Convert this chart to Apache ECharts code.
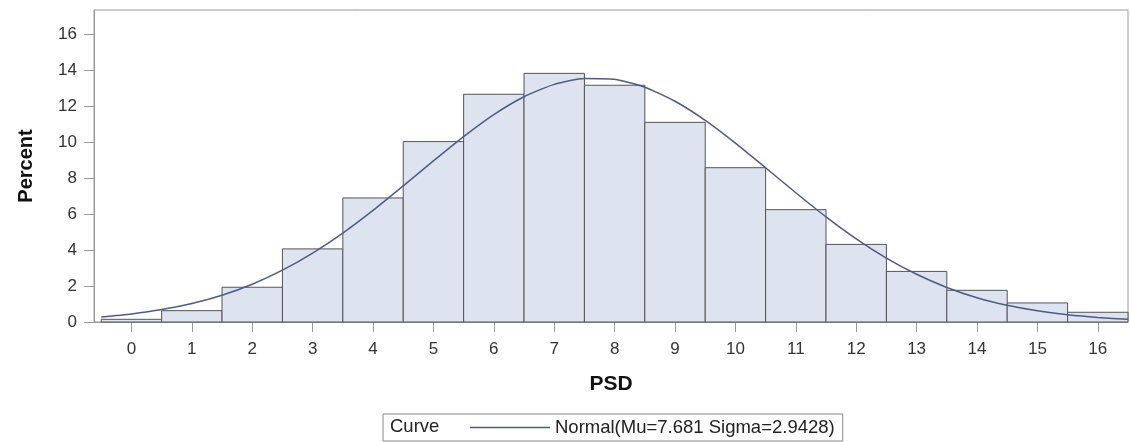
<!DOCTYPE html>
<html>
<head>
<meta charset="utf-8">
<script src="https://cdn.jsdelivr.net/npm/echarts@6/dist/echarts.min.js"></script>
<style>
  html, body { margin: 0; padding: 0; background: #fff; }
  #chart { width: 1130px; height: 442px; }
</style>
</head>
<body>
<div id="chart"></div>
<script>
// histogram bins (PSD midpoints) and percent per bin
const bins = [0, 1, 2, 3, 4, 5, 6, 7, 8, 9, 10, 11, 12, 13, 14, 15, 16];
const percents = [0.15, 0.63, 1.93, 4.06, 6.89, 10.02, 12.65, 13.81, 13.15, 11.09, 8.57, 6.24, 4.31, 2.81, 1.76, 1.06, 0.54];

// fitted normal curve
const curveX = [-0.5, 0, 0.5, 1, 1.5, 2, 2.5, 3, 3.5, 4, 4.5, 5, 5.5, 6, 6.5, 7, 7.5, 8, 8.5, 9, 9.5, 10, 10.5, 11, 11.5, 12, 12.5, 13, 13.5, 14, 14.5, 15, 15.5, 16, 16.5];
const curveY = [0.28, 0.45, 0.69, 1.03, 1.49, 2.10, 2.88, 3.83, 4.94, 6.20, 7.56, 8.95, 10.30, 11.52, 12.51, 13.20, 13.53, 13.48, 13.04, 12.26, 11.20, 9.94, 8.57, 7.18, 5.84, 4.62, 3.55, 2.65, 1.92, 1.35, 0.93, 0.62, 0.40, 0.25, 0.15];

const xTicks = [0, 1, 2, 3, 4, 5, 6, 7, 8, 9, 10, 11, 12, 13, 14, 15, 16];
const yTicks = [0, 2, 4, 6, 8, 10, 12, 14, 16];
const curveName = 'Normal(Mu=7.681 Sigma=2.9428)';

const chart = echarts.init(document.getElementById('chart'));
const font = 'Arial, "Liberation Sans", sans-serif';
const axisGray = '#9a9a9a';

const option = {
  animation: false,
  textStyle: { fontFamily: font },
  grid: {
    left: 94, right: 2, top: 10, bottom: 120,
    show: true, borderColor: axisGray, borderWidth: 1
  },
  xAxis: {
    type: 'value',
    min: -0.62,
    max: 16.5,
    name: 'PSD',
    nameLocation: 'middle',
    nameGap: 52,
    nameTextStyle: { fontSize: 21, fontWeight: 'bold', color: '#111', fontFamily: font },
    axisLine: { show: true, onZero: false, lineStyle: { color: axisGray } },
    axisTick: { show: true, length: 10, customValues: xTicks, lineStyle: { color: axisGray } },
    axisLabel: { customValues: xTicks, fontSize: 17, color: '#333', margin: 19 },
    splitLine: { show: false }
  },
  yAxis: {
    type: 'value',
    min: 0,
    max: 17.33,
    name: 'Percent',
    nameLocation: 'middle',
    nameGap: 58,
    nameTextStyle: { fontSize: 20, fontWeight: 'bold', color: '#111', fontFamily: font },
    axisLine: { show: true, onZero: false, lineStyle: { color: axisGray } },
    axisTick: { show: true, length: 10, customValues: yTicks, lineStyle: { color: axisGray } },
    axisLabel: { customValues: yTicks, fontSize: 17, color: '#333', margin: 17 },
    splitLine: { show: false }
  },
  legend: {
    data: [{ name: curveName, icon: 'rect' }],
    left: 383,
    top: 414,
    padding: [4, 8, 4, 87],
    itemWidth: 80,
    itemHeight: 1.5,
    itemGap: 0,
    borderColor: '#888',
    borderWidth: 1,
    textStyle: { fontSize: 18.5, color: '#222', fontFamily: font }
  },
  graphic: [{
    type: 'text',
    left: 390,
    top: 417,
    style: { text: 'Curve', fontSize: 18.5, fill: '#222', fontFamily: font }
  }],
  series: [
    {
      name: 'Histogram',
      type: 'custom',
      data: bins.map((b, i) => [b, percents[i]]),
      renderItem: function (params, api) {
        const x = api.value(0);
        const y = api.value(1);
        const p1 = api.coord([x - 0.5, y]);
        const p2 = api.coord([x + 0.5, 0]);
        return {
          type: 'rect',
          shape: { x: p1[0], y: p1[1], width: p2[0] - p1[0], height: p2[1] - p1[1] },
          style: { fill: '#dde3ef', stroke: '#555', lineWidth: 1 }
        };
      },
      z: 2
    },
    {
      name: curveName,
      type: 'line',
      data: curveX.map((x, i) => [x, curveY[i]]),
      smooth: 0.2,
      symbol: 'none',
      lineStyle: { color: '#4f5b86', width: 1.5 },
      itemStyle: { color: '#4f5b86' },
      z: 3
    }
  ]
};

chart.setOption(option);
</script>
</body>
</html>
